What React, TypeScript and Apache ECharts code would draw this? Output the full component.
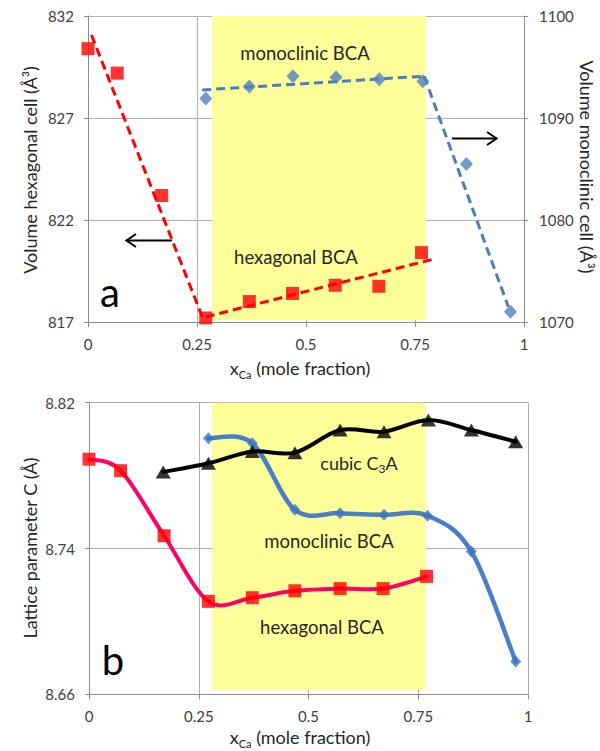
import React, { useEffect, useRef } from "react";
import * as echarts from "echarts";

const FONT = 'Lato, "Noto Sans", sans-serif';
const TXT = "#262626";

// ---- panel a ----
const hexX = [0, 0.067, 0.169, 0.27, 0.37, 0.469, 0.567, 0.667, 0.765];
const hexVol = [830.4, 829.2, 823.2, 817.2, 818.0, 818.4, 818.8, 818.75, 820.4];
const monoX = [0.27, 0.37, 0.47, 0.569, 0.668, 0.768, 0.868, 0.969];
const monoVol = [1091.9, 1093.1, 1094.1, 1094.0, 1093.8, 1093.6, 1085.5, 1071.0];
const hexTrend1 = [[0.008, 831.07], [0.264, 817.15]];
const hexTrend2 = [[0.27, 817.25], [0.796, 820.1]];
const monoTrend1 = [[0.262, 1092.75], [0.771, 1094.1]];
const monoTrend2 = [[0.771, 1094.1], [0.964, 1071.5]];
const bandA = [0.284, 0.775];

// ---- panel b ----
const hexCx = [0, 0.072, 0.171, 0.272, 0.372, 0.469, 0.572, 0.67, 0.769];
const hexC = [8.789, 8.7827, 8.747, 8.711, 8.713, 8.7168, 8.718, 8.718, 8.7247];
const monoCx = [0.272, 0.372, 0.469, 0.572, 0.672, 0.771, 0.871, 0.972];
const monoC = [8.8005, 8.7978, 8.7612, 8.7594, 8.7585, 8.758, 8.7384, 8.678];
const cubicX = [0.169, 0.272, 0.372, 0.469, 0.572, 0.672, 0.773, 0.871, 0.972];
const cubicC = [8.782, 8.7868, 8.7932, 8.7926, 8.805, 8.8041, 8.8105, 8.805, 8.7986];
const bandB = [0.28, 0.767];

const zip = (xs: number[], ys: number[]) => xs.map((x, i) => [x, ys[i]]);

// Excel-like smoothed line (Catmull-Rom bezier segments in pixel space)
const smoothSeries = (xs: number[], ys: number[], color: string, width: number) => ({
  type: "custom",
  xAxisIndex: 1,
  yAxisIndex: 2,
  z: 3,
  clip: false,
  silent: true,
  data: zip(xs, ys),
  encode: { x: 0, y: 1 },
  renderItem: (params: any, api: any) => {
    const n = xs.length;
    const i = params.dataIndex;
    if (i >= n - 1) return null;
    const P = (k: number) => {
      const j = Math.max(0, Math.min(n - 1, k));
      return api.coord([xs[j], ys[j]]);
    };
    const p0 = P(i - 1), p1 = P(i), p2 = P(i + 1), p3 = P(i + 2);
    const t = 1 / 6;
    return {
      type: "bezierCurve",
      shape: {
        x1: p1[0], y1: p1[1], x2: p2[0], y2: p2[1],
        cpx1: p1[0] + (p2[0] - p0[0]) * t, cpy1: p1[1] + (p2[1] - p0[1]) * t,
        cpx2: p2[0] - (p3[0] - p1[0]) * t, cpy2: p2[1] - (p3[1] - p1[1]) * t,
      },
      style: { stroke: color, lineWidth: width, fill: null, lineCap: "round" },
    };
  },
});

export default function App() {
  const ref = useRef<HTMLDivElement>(null);
  useEffect(() => {
    document.body.style.margin = "0";
    const chart = echarts.init(ref.current!, undefined, { renderer: "svg" });
    const axisLine = { show: true, lineStyle: { color: "#8c8c8c", width: 1 } };
    const split = { show: true, lineStyle: { color: "#b0b0b0", width: 1 } };
    const lbl = { color: "#404040", fontSize: 15, fontFamily: FONT };
    const xAx = (gridIndex: number) => ({
      type: "value",
      gridIndex,
      min: 0,
      max: 1,
      interval: 0.25,
      z: 1,
      axisLine,
      axisTick: { show: true, length: 5, lineStyle: { color: "#8c8c8c" } },
      splitLine: split,
      axisLabel: { ...lbl, margin: 14, formatter: (v: number) => String(v) },
    });
    const tip = { show: true, length: 4, lineStyle: { color: "#8c8c8c" } };
    const title = (text: string, x: number, y: number, rotation: number) => ({
      type: "text", z: 10, x, y, rotation,
      style: { text, fontSize: 18, fontFamily: FONT, fill: TXT, align: "center", verticalAlign: "middle" },
    });
    const note = (text: string, x: number, y: number, extra: any = {}) => ({
      type: "text", z: 10, x, y,
      style: { text, fontSize: 18.5, fontFamily: FONT, fill: TXT, align: "center", verticalAlign: "middle", ...extra },
    });
    const option: any = {
      animation: false,
      grid: [
        { left: 88, top: 16, width: 436, height: 306 },
        { left: 89, top: 402.7, width: 439, height: 291.6 },
      ],
      xAxis: [xAx(0), xAx(1)],
      yAxis: [
        {
          type: "value", gridIndex: 0, min: 817, max: 832, interval: 5, z: 1,
          axisLine, axisTick: tip, splitLine: split,
          axisLabel: { ...lbl, margin: 14, formatter: (v: number) => String(v) },
        },
        {
          type: "value", gridIndex: 0, min: 1070, max: 1100, interval: 10, z: 1,
          position: "right",
          axisLine, axisTick: tip, splitLine: { show: false },
          axisLabel: { ...lbl, margin: 15, formatter: (v: number) => String(v) },
        },
        {
          type: "value", gridIndex: 1, min: 8.66, max: 8.82, interval: 0.08, z: 1,
          axisLine, axisTick: tip, splitLine: split,
          axisLabel: { ...lbl, margin: 14, formatter: (v: number) => v.toFixed(2) },
        },
      ],
      series: [
        {
          type: "line", xAxisIndex: 0, yAxisIndex: 0, z: 0, silent: true,
          data: [[0.5, 825]], showSymbol: false, lineStyle: { width: 0 },
          markArea: {
            silent: true,
            itemStyle: { color: "#FFFF99" },
            data: [[{ xAxis: bandA[0], yAxis: 817.1 }, { xAxis: bandA[1], yAxis: 832 }]],
          },
        },
        {
          type: "line", xAxisIndex: 1, yAxisIndex: 2, z: 0, silent: true,
          data: [[0.5, 8.7]], showSymbol: false, lineStyle: { width: 0 },
          markArea: {
            silent: true,
            itemStyle: { color: "#FFFF99" },
            data: [[{ xAxis: bandB[0], yAxis: 8.6624 }, { xAxis: bandB[1], yAxis: 8.82 }]],
          },
        },
        ...[hexTrend1, hexTrend2].map((d) => ({
          type: "line", xAxisIndex: 0, yAxisIndex: 0, z: 3, data: d, showSymbol: false,
          lineStyle: { color: "#FF0000", width: 3, type: [9, 5] },
        })),
        ...[monoTrend1, monoTrend2].map((d) => ({
          type: "line", xAxisIndex: 0, yAxisIndex: 1, z: 3, data: d, showSymbol: false,
          lineStyle: { color: "#4A7EBB", width: 3, type: [9, 5] },
        })),
        {
          type: "scatter", xAxisIndex: 0, yAxisIndex: 0, z: 4, data: zip(hexX, hexVol),
          symbol: "rect", symbolSize: 13, itemStyle: { color: "#FF0000" },
        },
        {
          type: "scatter", xAxisIndex: 0, yAxisIndex: 1, z: 4, data: zip(monoX, monoVol),
          symbol: "diamond", symbolSize: [13, 14], itemStyle: { color: "#4F81BD" },
        },
        smoothSeries(hexCx, hexC, "#FF0066", 4),
        smoothSeries(monoCx, monoC, "#4A7EC6", 4.5),
        smoothSeries(cubicX, cubicC, "#000000", 4),
        {
          type: "scatter", xAxisIndex: 1, yAxisIndex: 2, z: 4, data: zip(hexCx, hexC),
          symbol: "rect", symbolSize: 13, itemStyle: { color: "#FF0000" },
        },
        {
          type: "scatter", xAxisIndex: 1, yAxisIndex: 2, z: 4, data: zip(monoCx, monoC),
          symbol: "diamond", symbolSize: [11, 12], itemStyle: { color: "#3F76C0" },
        },
        {
          type: "scatter", xAxisIndex: 1, yAxisIndex: 2, z: 4, data: zip(cubicX, cubicC),
          symbol: "triangle", symbolSize: [15, 13], itemStyle: { color: "#000000" },
        },
      ],
      graphic: [
        title("Volume hexagonal cell (Å³)", 30, 170, Math.PI / 2),
        title("Volume monoclinic cell (Å³)", 587, 167, -Math.PI / 2),
        title("Lattice parameter C (Å)", 30, 548, Math.PI / 2),
        ...[368, 737].map((y) => ({
          type: "text", z: 10, x: 300, y,
          style: {
            text: "{i|x}{s|Ca}{i| (mole fraction)}", align: "center", verticalAlign: "middle",
            rich: {
              i: { fontSize: 18, fontFamily: FONT, fill: TXT, color: TXT, lineHeight: 24, verticalAlign: "middle" },
              s: { fontSize: 11, fontFamily: FONT, fill: TXT, color: TXT, lineHeight: 11, verticalAlign: "bottom" },
            },
          },
        })),
        note("monoclinic BCA", 305, 53),
        note("hexagonal BCA", 296, 257),
        { type: "text", z: 10, x: 110, y: 292,
          style: { text: "a", fontSize: 40, fontFamily: FONT, fill: "#000", align: "center", verticalAlign: "middle" } },
        { type: "text", z: 10, x: 359, y: 463,
          style: {
            text: "{i|cubic C}{s|3}{i|A}", align: "center", verticalAlign: "middle",
            rich: {
              i: { fontSize: 18, fontFamily: FONT, fill: TXT, color: TXT, lineHeight: 22, verticalAlign: "middle" },
              s: { fontSize: 12, fontFamily: FONT, fill: TXT, color: TXT, lineHeight: 11, verticalAlign: "bottom" },
            },
          } },
        note("monoclinic BCA", 329, 541, { backgroundColor: "#FFFF99", padding: [4, 10] }),
        note("hexagonal BCA", 322, 627),
        { type: "text", z: 10, x: 113, y: 660,
          style: { text: "b", fontSize: 40, fontFamily: FONT, fill: "#000", align: "center", verticalAlign: "middle" } },
        // arrows
        { type: "line", z: 10, shape: { x1: 172, y1: 240.5, x2: 126, y2: 240.5 }, style: { stroke: "#000", lineWidth: 2 } },
        { type: "polyline", z: 10, shape: { points: [[136, 234], [126.5, 240.5], [136, 247]] }, style: { stroke: "#000", lineWidth: 2, fill: null } },
        { type: "line", z: 10, shape: { x1: 452, y1: 138.5, x2: 497, y2: 138.5 }, style: { stroke: "#000", lineWidth: 2 } },
        { type: "polyline", z: 10, shape: { points: [[487, 132], [496.5, 138.5], [487, 145]] }, style: { stroke: "#000", lineWidth: 2, fill: null } },
      ],
    };
    chart.setOption(option);
    return () => chart.dispose();
  }, []);
  return <div ref={ref} style={{ position: "absolute", left: 0, top: 0, width: 600, height: 751 }} />;
}
